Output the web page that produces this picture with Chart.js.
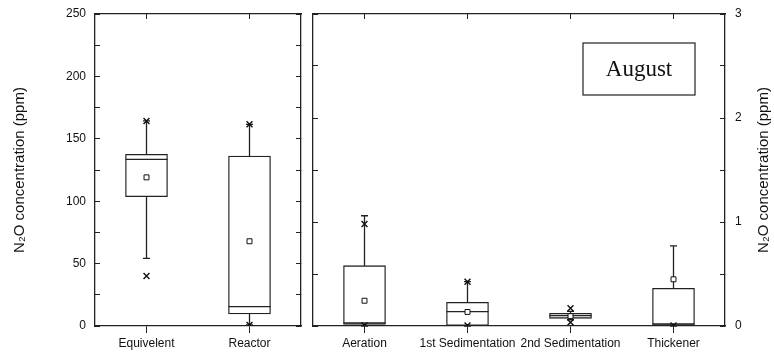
<!DOCTYPE html>
<html lang="en">
  <head>
    <meta charset="UTF-8" />
    <title>N2O concentration - August</title>
    <script src="https://cdn.jsdelivr.net/npm/chart.js"></script>
    <style>
      body {
        margin: 0;
        background: #ffffff;
      }
      #wrap {
        position: relative;
        width: 774px;
        height: 356px;
        overflow: hidden;
      }
      .panel {
        position: absolute;
        top: 0;
        height: 356px;
      }
      #left-panel {
        left: 0;
        width: 310px;
      }
      #right-panel {
        left: 305px;
        width: 469px;
      }
    </style>
  </head>
  <body>
    <div id="wrap">
      <div id="left-panel" class="panel"><canvas id="left-chart"></canvas></div>
      <div id="right-panel" class="panel"><canvas id="right-chart"></canvas></div>
    </div>

    <script>
      // left panel (ppm, 0-250)
      const leftCats = ['Equivelent', 'Reactor'];
      const leftWhiskerLow = [54.2, 0.8];
      const leftQ1 = [103.6, 9.6];
      const leftMedian = [133.5, 15.5];
      const leftQ3 = [137.5, 136.2];
      const leftWhiskerHigh = [164.3, 161.6];
      const leftMean = [119.1, 67.9];
      const leftMaxMark = [164.3, 161.6];
      const leftMinMark = [40, 0.8];
      const leftTicks = [0, 50, 100, 150, 200, 250];

      // right panel (ppm, 0-3)
      const rightCats = ['Aeration', '1st Sedimentation', '2nd Sedimentation', 'Thickener'];
      const rightWhiskerLow = [0, 0, 0.06, 0];
      const rightQ1 = [0.016, 0.005, 0.074, 0.008];
      const rightMedian = [0.03, 0.138, 0.1, 0.02];
      const rightQ3 = [0.58, 0.228, 0.122, 0.362];
      const rightWhiskerHigh = [1.06, 0.426, 0.14, 0.77];
      const rightMean = [0.243, 0.135, 0.095, 0.449];
      const rightMaxMark = [0.98, 0.426, 0.17, null];
      const rightMinMark = [0.005, 0.005, 0.035, 0.005];
      const rightTicks = [0, 1, 2, 3];

      const ink = '#222222';
      const sans = '"Liberation Sans", Arial, sans-serif';
      const yTitle = 'N\u2082O concentration (ppm)';

      // whiskers, caps and median lines, drawn right after the boxes
      function boxWhiskers(low, median, high) {
        return {
          id: 'boxWhiskers',
          afterDatasetDraw(chart, args) {
            if (args.index !== 0) return;
            const ctx = chart.ctx;
            const y = chart.scales.y;
            ctx.save();
            ctx.strokeStyle = ink;
            ctx.lineWidth = 1.3;
            args.meta.data.forEach((bar, i) => {
              const x = bar.x;
              const half = bar.width / 2;
              const yLow = y.getPixelForValue(low[i]);
              const yHigh = y.getPixelForValue(high[i]);
              const yQ1 = Math.max(bar.y, bar.base);
              const yQ3 = Math.min(bar.y, bar.base);
              const yMed = y.getPixelForValue(median[i]);
              ctx.beginPath();
              ctx.moveTo(x, yQ3);
              ctx.lineTo(x, yHigh);
              ctx.moveTo(x - 3.5, yHigh);
              ctx.lineTo(x + 3.5, yHigh);
              ctx.moveTo(x, yQ1);
              ctx.lineTo(x, yLow);
              ctx.moveTo(x - 3.5, yLow);
              ctx.lineTo(x + 3.5, yLow);
              ctx.moveTo(x - half, yMed);
              ctx.lineTo(x + half, yMed);
              ctx.stroke();
            });
            ctx.restore();
          },
        };
      }

      function markDataset(cats, values, style, radius) {
        const pts = [];
        cats.forEach((c, i) => {
          if (values[i] !== null) pts.push({ x: c, y: values[i] });
        });
        return {
          type: 'line',
          showLine: false,
          data: pts,
          pointStyle: style,
          pointRadius: radius,
          pointBackgroundColor: '#ffffff',
          pointBorderColor: '#111111',
          pointBorderWidth: style === 'rect' ? 1 : 1.4,
          order: 0,
        };
      }

      function boxDataset(q1, q3) {
        return {
          data: q1.map((v, i) => [v, q3[i]]),
          backgroundColor: '#ffffff',
          borderColor: ink,
          borderWidth: 1.3,
          borderSkipped: false,
          barThickness: 42,
          order: 1,
        };
      }

      function frameX(cats, position, tickLength, showLabels, height) {
        return {
          type: 'category',
          labels: cats,
          position: position,
          offset: true,
          grid: {
            offset: false,
            drawOnChartArea: false,
            tickLength: tickLength,
            color: ink,
          },
          border: { display: true, color: ink, width: 1.3 },
          ticks: {
            display: showLabels,
            autoSkip: false,
            maxRotation: 0,
            padding: 3,
            color: '#111111',
            font: { family: sans, size: 12 },
          },
          afterFit: (s) => {
            s.height = height;
          },
        };
      }

      function frameY(position, max, step, majors, showLabels, width, pad) {
        return {
          position: position,
          min: 0,
          max: max,
          afterBuildTicks: (s) => {
            const t = [];
            for (let v = 0; v <= max + 1e-9; v += step) t.push({ value: +v.toFixed(3) });
            s.ticks = t;
          },
          grid: { drawOnChartArea: false, tickLength: -5, color: ink },
          border: { display: true, color: ink, width: 1.3 },
          ticks: {
            display: showLabels,
            padding: pad,
            color: '#111111',
            font: { family: sans, size: 12 },
            callback: (v) => (majors.includes(v) ? v : ''),
          },
          afterFit: (s) => {
            s.width = width;
            // labels sit beside the frame; keep them from pushing the plot area in
            s.paddingTop = 0;
            s.paddingBottom = 0;
          },
        };
      }

      const commonPlugins = {
        legend: { display: false },
        tooltip: { enabled: false },
      };

      // left panel
      const leftY = frameY('left', 250, 25, leftTicks, true, 95, 14);
      leftY.title = {
        display: true,
        text: yTitle,
        color: '#111111',
        font: { family: sans, size: 15 },
        padding: { top: 11 },
      };

      new Chart(document.getElementById('left-chart'), {
        type: 'bar',
        data: {
          labels: leftCats,
          datasets: [
            boxDataset(leftQ1, leftQ3),
            markDataset(leftCats, leftMean, 'rect', 3.5),
            markDataset(leftCats, leftMaxMark, 'crossRot', 4.2),
            markDataset(leftCats, leftMinMark, 'crossRot', 4.2),
          ],
        },
        options: {
          responsive: true,
          maintainAspectRatio: false,
          animation: false,
          devicePixelRatio: 1,
          layout: { padding: { left: 0, right: 9, top: 14, bottom: 0 } },
          plugins: commonPlugins,
          scales: {
            x: frameX(leftCats, 'bottom', 7, true, 30),
            x2: frameX(leftCats, 'top', -5, false, 0),
            y: leftY,
            y2: frameY('right', 250, 25, leftTicks, false, 0, 0),
          },
        },
        plugins: [boxWhiskers(leftWhiskerLow, leftMedian, leftWhiskerHigh)],
      });

      // right panel: extra title on the right and the "August" label box
      const rightDecor = {
        id: 'rightDecor',
        afterDraw(chart) {
          const ctx = chart.ctx;
          const area = chart.chartArea;
          ctx.save();
          // month label
          ctx.fillStyle = '#ffffff';
          ctx.strokeStyle = ink;
          ctx.lineWidth = 1.2;
          ctx.fillRect(area.left + 270, area.top + 29, 112, 52);
          ctx.strokeRect(area.left + 270, area.top + 29, 112, 52);
          ctx.fillStyle = '#111111';
          ctx.font = '23px "Liberation Serif", "Times New Roman", serif';
          ctx.textAlign = 'center';
          ctx.textBaseline = 'middle';
          ctx.fillText('August', area.left + 326, area.top + 56);
          // right axis title, reading bottom to top
          ctx.translate(chart.width - 10, (area.top + area.bottom) / 2);
          ctx.rotate(-Math.PI / 2);
          ctx.font = '15px ' + sans;
          ctx.fillText(yTitle, 0, 0);
          ctx.restore();
        },
      };

      new Chart(document.getElementById('right-chart'), {
        type: 'bar',
        data: {
          labels: rightCats,
          datasets: [
            boxDataset(rightQ1, rightQ3),
            markDataset(rightCats, rightMean, 'rect', 3.5),
            markDataset(rightCats, rightMaxMark, 'crossRot', 4.2),
            markDataset(rightCats, rightMinMark, 'crossRot', 4.2),
          ],
        },
        options: {
          responsive: true,
          maintainAspectRatio: false,
          animation: false,
          devicePixelRatio: 1,
          layout: { padding: { left: 0, right: 0, top: 14, bottom: 0 } },
          plugins: commonPlugins,
          scales: {
            x: frameX(rightCats, 'bottom', 7, true, 30),
            x2: frameX(rightCats, 'top', -5, false, 0),
            y: frameY('left', 3, 0.5, rightTicks, false, 8, 0),
            y2: frameY('right', 3, 0.5, rightTicks, true, 49, 15),
          },
        },
        plugins: [boxWhiskers(rightWhiskerLow, rightMedian, rightWhiskerHigh), rightDecor],
      });
    </script>
  </body>
</html>
